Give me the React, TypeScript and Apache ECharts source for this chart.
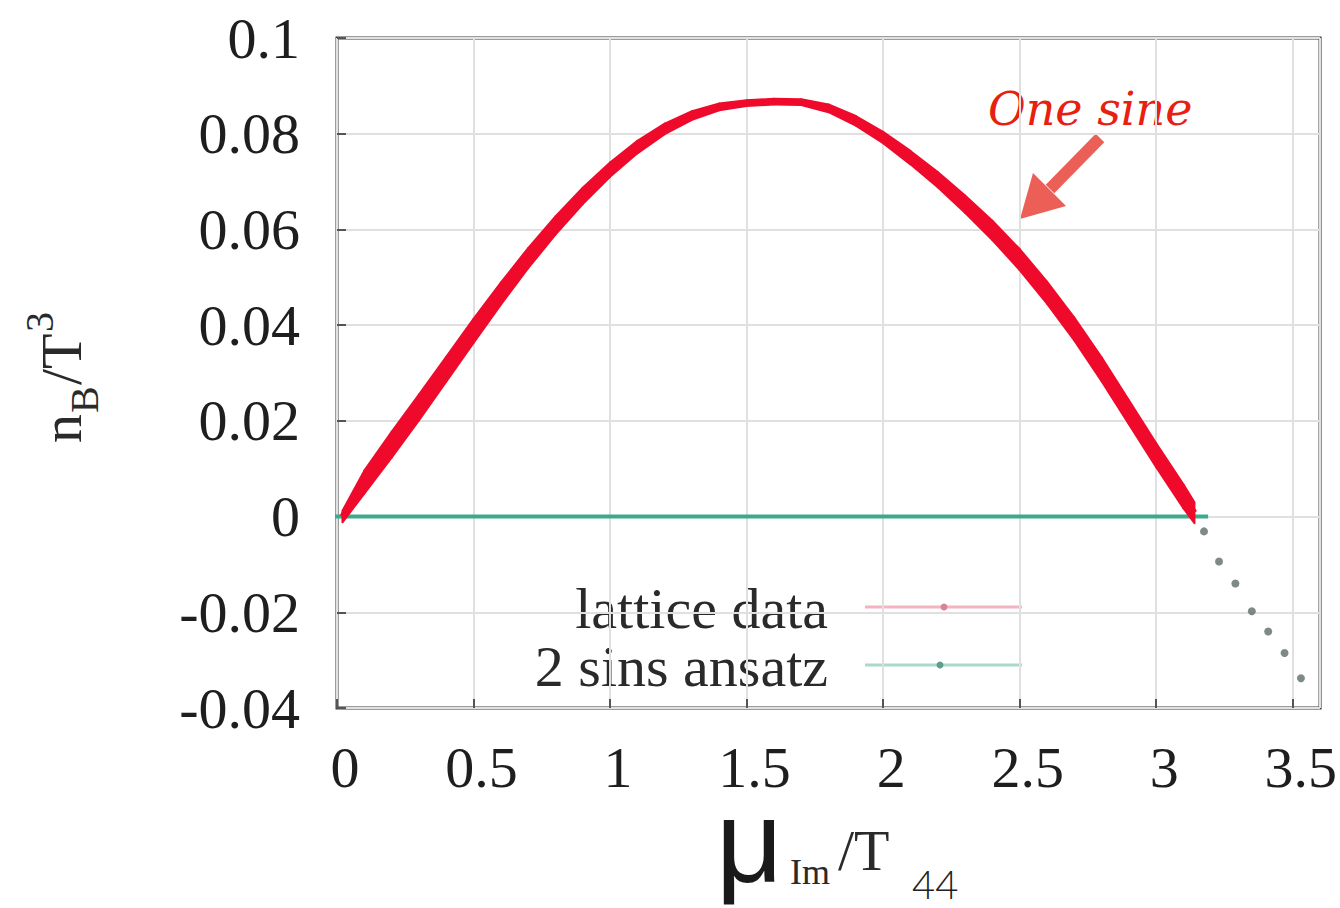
import React, { useEffect, useRef } from "react";
import * as echarts from "echarts";

// lattice data: mu_Im/T, n_B/T^3 and half-width of its error band
const muLattice = [0.02, 0.1, 0.2, 0.3, 0.4, 0.5, 0.6, 0.7, 0.8, 0.9, 1.0, 1.1, 1.2, 1.3, 1.4, 1.5, 1.6, 1.7, 1.8, 1.9, 2.0, 2.1, 2.2, 2.3, 2.4, 2.5, 2.6, 2.7, 2.8, 2.9, 3.0, 3.1, 3.14];
const nBLattice = [0.0, 0.0072, 0.015, 0.0228, 0.0308, 0.0388, 0.0466, 0.054, 0.0608, 0.067, 0.0725, 0.0772, 0.081, 0.0838, 0.0856, 0.0864, 0.0867, 0.0866, 0.0853, 0.0827, 0.0792, 0.075, 0.0704, 0.0653, 0.0598, 0.0537, 0.0468, 0.0392, 0.0308, 0.0218, 0.0128, 0.0042, 0.0008];
const nBError = [0.0012, 0.0024, 0.0027, 0.0027, 0.0026, 0.0025, 0.0023, 0.0021, 0.0019, 0.0017, 0.0015, 0.0013, 0.0011, 0.0009, 0.0007, 0.0006, 0.0006, 0.0006, 0.0008, 0.001, 0.0012, 0.0014, 0.0016, 0.0018, 0.002, 0.0022, 0.0023, 0.0024, 0.0025, 0.0025, 0.0025, 0.0025, 0.0022];

// 2 sins ansatz: zero line segment and tail points beyond pi
const ansatzZeroX = [-0.12, 3.19];
const ansatzZeroY = [0, 0];
const ansatzTailX = [3.175, 3.23, 3.29, 3.35, 3.41, 3.47, 3.53];
const ansatzTailY = [-0.0031, -0.0094, -0.014, -0.0198, -0.024, -0.0285, -0.0338];

const legendNames = ["lattice data", "2 sins ansatz"];
const annotationText = "One sine";

const RED = "#ef0a2c";
const SERIF = '"Liberation Serif", "DejaVu Serif", serif';
const INK = "#1e1e1e";

export default function App() {
  const ref = useRef<HTMLDivElement>(null);
  useEffect(() => {
    const chart = echarts.init(ref.current!, null, { renderer: "svg" });
    const segments = muLattice.slice(0, -1).map((x, i) => [
      x, nBLattice[i], nBError[i],
      muLattice[i + 1], nBLattice[i + 1], nBError[i + 1],
    ]);
    const center = muLattice.map((x, i) => [x, nBLattice[i]]);
    const zero = ansatzZeroX.map((x, i) => [x, ansatzZeroY[i]]);
    const tail = ansatzTailX.map((x, i) => [x, ansatzTailY[i]]);

    const fmt = (v: number) => {
      const r = Math.round(v * 100) / 100;
      return r === 0 ? "0" : String(r);
    };

    const option: any = {
      animation: false,
      backgroundColor: "#ffffff",
      grid: {
        left: 337,
        top: 38,
        right: 17,
        bottom: 200,
        show: true,
        borderColor: "#3a3a3a",
        borderWidth: 3,
        backgroundColor: "transparent",
      },
      xAxis: {
        type: "value",
        min: 0,
        max: 3.6,
        interval: 0.5,
        axisLine: { show: false, onZero: false },
        axisTick: { show: true, inside: true, length: 9, lineStyle: { color: "#555", width: 2 } },
        splitLine: { show: true, lineStyle: { color: "#e0e0e0", width: 2 } },
        axisLabel: {
          showMaxLabel: false,
          margin: 30,
          padding: [0, 0, 0, 16],
          fontFamily: SERIF,
          fontSize: 58,
          color: INK,
          formatter: (v: number) => fmt(v),
        },
      },
      yAxis: {
        type: "value",
        min: -0.04,
        max: 0.1,
        interval: 0.02,
        axisLine: { show: false, onZero: false },
        axisTick: { show: true, inside: true, length: 9, lineStyle: { color: "#555", width: 2 } },
        splitLine: { show: true, lineStyle: { color: "#e0e0e0", width: 2 } },
        axisLabel: {
          margin: 37,
          fontFamily: SERIF,
          fontSize: 58,
          color: INK,
          formatter: (v: number) => fmt(v),
        },
      },
      series: [
        {
          name: legendNames[1],
          type: "line",
          data: zero,
          clip: false,
          symbol: "none",
          lineStyle: { color: "#3daa8e", width: 4 },
          z: 2,
        },
        {
          name: legendNames[0] + " band",
          type: "custom",
          data: segments,
          encode: { x: [0, 3], y: [1, 4] },
          z: 3,
          silent: true,
          renderItem: (params: any, api: any) => {
            const x0 = api.value(0), y0 = api.value(1), e0 = api.value(2);
            const x1 = api.value(3), y1 = api.value(4), e1 = api.value(5);
            const pts = [
              api.coord([x0, y0 + e0]),
              api.coord([x1, y1 + e1]),
              api.coord([x1, y1 - e1]),
              api.coord([x0, y0 - e0]),
            ];
            return {
              type: "polygon",
              shape: { points: pts },
              style: { fill: RED, stroke: RED, lineWidth: 2, lineJoin: "round" },
            };
          },
        },
        {
          name: legendNames[0],
          type: "line",
          data: center,
          symbol: "none",
          smooth: 0.3,
          lineStyle: { color: RED, width: 6 },
          z: 4,
        },
        {
          name: legendNames[1] + " tail",
          type: "scatter",
          data: tail,
          symbol: "circle",
          symbolSize: 8,
          itemStyle: { color: "#5e6d6d", opacity: 0.8 },
          z: 4,
        },
      ],
      graphic: [
        // y axis name  n_B / T^3  (rotated)
        {
          type: "group",
          x: 81,
          y: 443,
          rotation: Math.PI / 2,
          children: [
            { type: "text", x: 0, y: -19.7, style: { text: "n", font: `58px ${SERIF}`, fill: "#2a2a2a", align: "left", verticalAlign: "middle" } },
            { type: "text", x: 30, y: 3.4, style: { text: "B", font: `40px ${SERIF}`, fill: "#2a2a2a", align: "left", verticalAlign: "middle" } },
            { type: "text", x: 58, y: -19.7, style: { text: "/T", font: `58px ${SERIF}`, fill: "#2a2a2a", align: "left", verticalAlign: "middle" } },
            { type: "text", x: 111, y: -41.6, style: { text: "3", font: `40px ${SERIF}`, fill: "#2a2a2a", align: "left", verticalAlign: "middle" } },
          ],
        },
        // x axis name  mu_Im / T
        { type: "text", x: 716, y: 842, style: { text: "μ", font: `116px "Liberation Sans", sans-serif`, lineHeight: 70, fill: "#1a1a1a", align: "left", verticalAlign: "middle" } },
        { type: "text", x: 790, y: 872, style: { text: "Im", font: `36px ${SERIF}`, fill: "#2a2a2a", align: "left", verticalAlign: "middle" } },
        { type: "text", x: 838, y: 850, style: { text: "/T", font: `58px ${SERIF}`, fill: "#2a2a2a", align: "left", verticalAlign: "middle" } },
        // page number
        { type: "text", x: 912, y: 884, style: { text: "44", font: `300 40px Lato, "Open Sans", sans-serif`, lineHeight: 36, fill: "#222", align: "left", verticalAlign: "middle" } },
        // legend
        { type: "text", x: 828, y: 608, style: { text: legendNames[0], font: `58px ${SERIF}`, lineHeight: 50, fill: "#2a2a2a", align: "right", verticalAlign: "middle" } },
        { type: "line", shape: { x1: 865, y1: 607, x2: 1022, y2: 607 }, style: { stroke: "#f3b3c0", lineWidth: 3 } },
        { type: "circle", shape: { cx: 944, cy: 607, r: 3.5 }, style: { fill: "#d98597" } },
        { type: "text", x: 828, y: 666, style: { text: legendNames[1], font: `58px ${SERIF}`, lineHeight: 50, fill: "#2a2a2a", align: "right", verticalAlign: "middle" } },
        { type: "line", shape: { x1: 865, y1: 665, x2: 1022, y2: 665 }, style: { stroke: "#a9d9cd", lineWidth: 3 } },
        { type: "circle", shape: { cx: 940, cy: 665, r: 3.5 }, style: { fill: "#5f9d8d" } },
        // annotation
        { type: "text", x: 988, y: 109, style: { text: annotationText, font: `italic 46px "DejaVu Serif", serif`, fill: "#e8200f", align: "left", verticalAlign: "middle" } },
        { type: "line", shape: { x1: 1100, y1: 138, x2: 1050, y2: 189 }, style: { stroke: "#ec5f57", lineWidth: 12 } },
        { type: "polygon", shape: { points: [[1020, 219], [1033, 173], [1066, 206]] }, style: { fill: "#ec5f57" } },
      ],
    };
    chart.setOption(option);
    return () => chart.dispose();
  }, []);
  return (
    <div
      ref={ref}
      style={{ position: "fixed", left: 0, top: 0, width: 1340, height: 908, background: "#fff" }}
    />
  );
}
